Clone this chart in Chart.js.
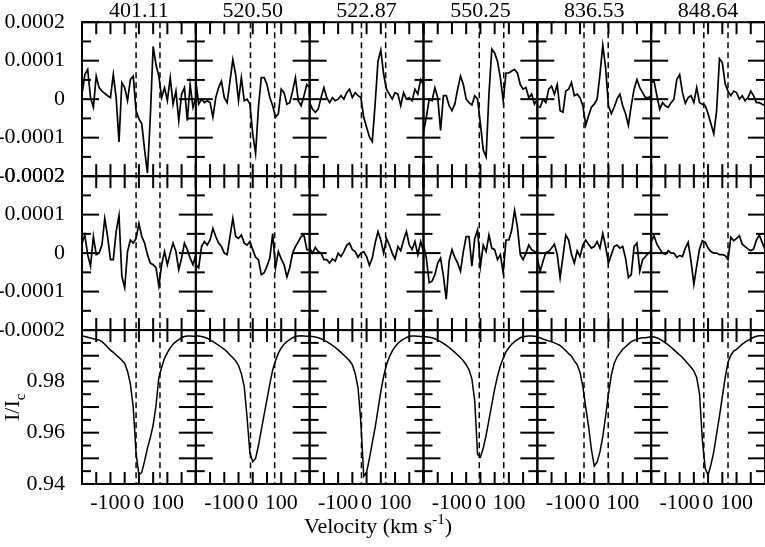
<!DOCTYPE html>
<html>
<head>
<meta charset="utf-8">
<title>LSD profiles</title>
<script src="https://cdn.jsdelivr.net/npm/chart.js@4.4.0/dist/chart.umd.min.js"></script>
<style>
  html, body { margin: 0; padding: 0; background: #fff; }
  #wrap { width: 765px; height: 547px; }
</style>
</head>
<body>
<div id="wrap"><canvas id="lsdChart" width="765" height="547"></canvas></div>
<script>
// velocity grid (km/s), shared by every panel
const velocity = [-200, -190, -180, -170, -160, -150, -140, -130, -120, -110, -100, -90, -80, -70, -60, -50, -40, -30, -20, -10,
  0, 10, 20, 30, 40, 50, 60, 70, 80, 90, 100, 110, 120, 130, 140, 150, 160, 170, 180, 190, 200];

const lineLabels = ['401.11', '520.50', '522.87', '550.25', '836.53', '848.64'];
// integration window (dashed lines) for each line
const windowLo = [-10, -8, -18, -4, -36, -15];
const windowHi = [74, 77, 67, 82, 49, 70];

const velTicks = [-200, -150, -100, -50, 0, 50, 100, 150, 200];
const velLabels = [-100, 0, 100];
const stokesTicks = [-0.0002, -0.00015, -0.0001, -0.00005, 0, 0.00005, 0.0001, 0.00015, 0.0002];
const profileTicks = [0.94, 0.945, 0.95, 0.955, 0.96, 0.965, 0.97, 0.975, 0.98, 0.985, 0.99, 0.995, 1.0];

// Stokes V (top row)
const V_401 = [1.3e-5, 6.4e-5, 7.7e-5, 0.4e-5, -2.1e-5, 6e-5, 3e-5, 2.1e-5, 1.5e-5, 0.9e-5, 0.4e-5, 6.4e-5, 0.4e-5, -11.1e-5, 4.3e-5, 3e-5, -0.4e-5, 5.1e-5, 6e-5, -3e-5,
  -5.1e-5, -6.4e-5, -13.2e-5, -19.2e-5, -4.7e-5, 13.7e-5, 9e-5, 6e-5, 0.4e-5, 3e-5, -0.4e-5, 5.6e-5, -1.3e-5, 2.1e-5, -5.6e-5, 1.3e-5, 3e-5, -5.6e-5, 3.8e-5, -2.1e-5, 0.4e-5];
const V_520 = [4.7e-5, -1.3e-5, 0, -0.9e-5, -0.4e-5, -0.9e-5, -4.7e-5, 0.4e-5, 3e-5, 4.7e-5, 0.4e-5, -0.9e-5, 4.7e-5, 10.3e-5, 6.4e-5, -0.4e-5, 5.6e-5, -0.4e-5, 0, -1.3e-5,
  -9e-5, -14.1e-5, -2.1e-5, 5.6e-5, 5.6e-5, 3.8e-5, 0.4e-5, -1.7e-5, -4.7e-5, -3.8e-5, 2.6e-5, 1.7e-5, -1.3e-5, -0.9e-5, 2.1e-5, 5.6e-5, -0.4e-5, -1.7e-5, 0.9e-5, 3.8e-5, 3e-5];
const V_522 = [-0.9e-5, -2.6e-5, -3.4e-5, -2.6e-5, 0.4e-5, 3e-5, 0.4e-5, -0.9e-5, 0.4e-5, -0.4e-5, 0, 0.9e-5, 0, 1.7e-5, 2.6e-5, 0.4e-5, 1.7e-5, 0.9e-5, 0.4e-5, -4.7e-5,
  -7.3e-5, -9.8e-5, -11e-5, -1.3e-5, 9.8e-5, 12.8e-5, 6.4e-5, 2.6e-5, 1.3e-5, 0, 1.7e-5, 1.3e-5, -1.7e-5, 1.7e-5, 0, 0.4e-5, -0.4e-5, 2.6e-5, 1.3e-5, 5.1e-5, 3.8e-5];
const V_550 = [-8.5e-5, -4.7e-5, 0, -0.4e-5, 3e-5, 0.4e-5, -8.1e-5, 0.9e-5, 0.9e-5, -1.7e-5, -3e-5, -1.3e-5, 2.6e-5, 6e-5, 3.8e-5, 0, -0.9e-5, -1.5e-5, 0.9e-5, 0,
  -6.4e-5, -13.2e-5, -15e-5, 1.3e-5, 13e-5, 12e-5, 9.8e-5, 5.6e-5, -0.4e-5, 6.8e-5, 6.8e-5, 7.3e-5, 7.7e-5, 6.8e-5, 3.8e-5, 2.6e-5, 3e-5, 0.4e-5, 1.3e-5, -1.3e-5, 0];
const V_836 = [-1.7e-5, -2.1e-5, 0, -0.9e-5, 2.6e-5, 3.4e-5, 1.3e-5, 3.8e-5, -3e-5, -3.4e-5, 2.1e-5, 2.6e-5, 4.3e-5, 0.9e-5, 1.3e-5, 0.4e-5, -1.7e-5, -6.8e-5, -4.3e-5, -2.1e-5,
  -1.3e-5, 0, 6.4e-5, 14e-5, 8.1e-5, -1.7e-5, -3.8e-5, -2.1e-5, 0, 1.3e-5, -1.7e-5, -3.8e-5, -6.8e-5, -1.7e-5, 2.6e-5, 5.1e-5, 3e-5, 1.7e-5, 0.4e-5, 0.4e-5, 0.9e-5];
const V_848 = [4.3e-5, 4.7e-5, 0.9e-5, -2.6e-5, -0.9e-5, -1.7e-5, -2.1e-5, -0.9e-5, 0, 5.1e-5, 6.4e-5, 1.7e-5, -1.1e-5, 0.4e-5, 0.9e-5, -0.9e-5, 3e-5, -0.9e-5, -1.3e-5, -1.7e-5,
  -3.8e-5, -6.4e-5, -9e-5, -3e-5, 10.5e-5, 9.5e-5, 4e-5, 2.1e-5, 0.9e-5, 2.1e-5, 1.7e-5, 0, 0.9e-5, -0.4e-5, 0.4e-5, 2.1e-5, 0.9e-5, -0.9e-5, -0.9e-5, -1.3e-5, -1.7e-5];

// null profile N (middle row)
const N_401 = [2.6e-5, 4.7e-5, -0.4e-5, -3.4e-5, 4.3e-5, -0.4e-5, 0, 2.1e-5, 9e-5, 4.3e-5, -1.7e-5, -1.7e-5, 5.6e-5, 9.8e-5, -6e-5, -9e-5, 0.4e-5, 3.4e-5, 2.6e-5, 3.8e-5,
  7.7e-5, 4.3e-5, 2.6e-5, -0.4e-5, -2.6e-5, -3e-5, -3.8e-5, -8.5e-5, -3e-5, 0.4e-5, -3e-5, 0, 2.6e-5, 0.4e-5, -4.3e-5, -1.3e-5, 2.6e-5, 0.9e-5, -1.3e-5, -3e-5, -0.4e-5];
const N_520 = [-3e-5, -3.8e-5, 1.7e-5, 3e-5, 2.1e-5, 3.4e-5, 6.4e-5, 4.3e-5, 2.6e-5, 1.7e-5, 0, -0.4e-5, 4.3e-5, 9e-5, 4.3e-5, 3.8e-5, 4.7e-5, 2.6e-5, 2.1e-5, 3e-5,
  0.9e-5, -1.1e-5, -1.7e-5, -5.6e-5, -5.1e-5, -3.4e-5, -1.3e-5, 5.1e-5, -3.8e-5, 0.4e-5, -1.5e-5, -3e-5, -6.2e-5, -3.8e-5, 0, 1.7e-5, 3e-5, 4.3e-5, 4.7e-5, 0.9e-5, 0.9e-5];
const N_522 = [1.3e-5, 0, 1.5e-5, 0.4e-5, 0, -1.7e-5, -1.7e-5, -2.6e-5, -1.5e-5, -2.1e-5, 0, -0.9e-5, 0.4e-5, 2e-5, 2.6e-5, 0.9e-5, 0.4e-5, -1.1e-5, 0, 0.4e-5,
  -0.9e-5, -3.2e-5, -1.3e-5, 2.6e-5, 5.6e-5, 3.4e-5, 0, 3.8e-5, 2.1e-5, 0, -1.5e-5, 1.7e-5, 0.6e-5, 3.4e-5, 5.6e-5, 2.1e-5, 0.9e-5, 3e-5, -0.4e-5, 3e-5, 0.4e-5];
const N_550 = [2.1e-5, -1.3e-5, -7.7e-5, -7.3e-5, -5.6e-5, -2.6e-5, -1.3e-5, -6e-5, -12e-5, -2.1e-5, 0.9e-5, -1.1e-5, -2.6e-5, -4.7e-5, 0.4e-5, 4.3e-5, 4.3e-5, -3.4e-5, 3.8e-5, 6e-5,
  -3.4e-5, 2.1e-5, 0.4e-5, 4.7e-5, 1.3e-5, 0.9e-5, -1.7e-5, -0.4e-5, -5.1e-5, 3.4e-5, 3.4e-5, 6e-5, 11.1e-5, 6.8e-5, -0.4e-5, -1.7e-5, 0, 2.1e-5, 0.9e-5, 0.4e-5, 0];
const N_836 = [-1.3e-5, -4.7e-5, -2.1e-5, 0.2e-5, 0.4e-5, 1.3e-5, 2.3e-5, -0.4e-5, -6.4e-5, -0.9e-5, 4.7e-5, 3.4e-5, -0.4e-5, -2.6e-5, 0.6e-5, -0.9e-5, 2.1e-5, 3.4e-5, 2.3e-5, 1.3e-5,
  1.7e-5, 3e-5, 1.3e-5, 5.1e-5, 1.7e-5, -2.6e-5, -0.4e-5, 1.7e-5, 2.1e-5, 1.3e-5, 1.7e-5, -1.3e-5, -6.4e-5, -5.6e-5, 1.7e-5, 2.6e-5, -4.7e-5, -1.7e-5, -0.9e-5, 0, 0.4e-5];
const N_848 = [3e-5, 4.5e-5, 2.3e-5, 1.1e-5, 0, -0.3e-5, 0.6e-5, 0, 0, -1.1e-5, -0.6e-5, -0.9e-5, 1.3e-5, 2.8e-5, -2.1e-5, -8.1e-5, -3.4e-5, 1.1e-5, 3.2e-5, 2.8e-5,
  1.3e-5, 0.4e-5, 0, 0, -0.4e-5, -0.4e-5, -0.6e-5, -1.7e-5, 4.1e-5, 3.2e-5, 3.8e-5, 4.5e-5, 2.3e-5, 1.7e-5, 1.1e-5, 0.6e-5, 1.1e-5, 3.4e-5, 4.7e-5, 2.8e-5, 0.9e-5];

// Stokes I / Ic (bottom row)
const I_401 = [0.9977, 0.9975, 0.9972, 0.9969, 0.9966, 0.9963, 0.9961, 0.9955, 0.9945, 0.9933, 0.9922, 0.9913, 0.9903, 0.9893, 0.9882, 0.987, 0.984, 0.979, 0.970, 0.952,
  0.9435, 0.9445, 0.949, 0.954, 0.958, 0.963, 0.9705, 0.9815, 0.9855, 0.989, 0.9912, 0.993, 0.9945, 0.9955, 0.9963, 0.997, 0.9975, 0.9977, 0.9977, 0.9976, 0.9975];
const I_520 = [0.9977, 0.9977, 0.9975, 0.9972, 0.9968, 0.9962, 0.9955, 0.9948, 0.994, 0.9933, 0.9925, 0.9915, 0.9903, 0.9892, 0.988, 0.9862, 0.983, 0.978, 0.966, 0.952,
  0.9487, 0.950, 0.955, 0.961, 0.967, 0.973, 0.979, 0.9845, 0.988, 0.991, 0.993, 0.9945, 0.9955, 0.9963, 0.997, 0.9975, 0.9977, 0.9978, 0.9977, 0.9976, 0.9975];
const I_522 = [0.9976, 0.9975, 0.9973, 0.997, 0.9966, 0.9961, 0.9955, 0.9948, 0.994, 0.9932, 0.9923, 0.9913, 0.9903, 0.9892, 0.988, 0.9865, 0.983, 0.9775, 0.964, 0.943,
  0.9445, 0.95, 0.956, 0.962, 0.969, 0.976, 0.982, 0.9865, 0.9895, 0.9918, 0.9935, 0.9948, 0.9958, 0.9965, 0.9971, 0.9975, 0.9977, 0.9977, 0.9976, 0.9975, 0.9975];
const I_550 = [0.9975, 0.9974, 0.9972, 0.997, 0.9966, 0.9961, 0.9955, 0.9948, 0.994, 0.9932, 0.9923, 0.9913, 0.9903, 0.9892, 0.988, 0.9865, 0.9845, 0.981, 0.9725, 0.9515,
  0.9505, 0.954, 0.959, 0.965, 0.971, 0.977, 0.982, 0.986, 0.989, 0.9915, 0.9932, 0.9945, 0.9955, 0.9963, 0.997, 0.9974, 0.9976, 0.9977, 0.9977, 0.9976, 0.9975];
const I_836 = [0.9972, 0.997, 0.9965, 0.9961, 0.9958, 0.9954, 0.995, 0.9945, 0.994, 0.993, 0.992, 0.9908, 0.9898, 0.988, 0.9865, 0.9835, 0.978, 0.970, 0.9625, 0.9535,
  0.947, 0.9485, 0.9525, 0.9585, 0.9665, 0.975, 0.9825, 0.987, 0.9895, 0.991, 0.9925, 0.9935, 0.9945, 0.9955, 0.996, 0.9965, 0.9968, 0.997, 0.997, 0.9972, 0.9974];
const I_848 = [0.9975, 0.9973, 0.997, 0.9965, 0.9958, 0.995, 0.9942, 0.9933, 0.9923, 0.9913, 0.9903, 0.9893, 0.988, 0.9868, 0.9855, 0.984, 0.9815, 0.975, 0.957, 0.946,
  0.9435, 0.9475, 0.9525, 0.9595, 0.9665, 0.974, 0.9815, 0.9875, 0.9902, 0.9918, 0.9925, 0.9935, 0.9945, 0.9953, 0.996, 0.9966, 0.9972, 0.9976, 0.9978, 0.9978, 0.9978];

const FONT = 'Liberation Serif';
const xIds = ['x0', 'x1', 'x2', 'x3', 'x4', 'x5'];
const rows = [
  { axis: 'yV', ticks: stokesTicks, width: 1.7, series: [V_401, V_520, V_522, V_550, V_836, V_848] },
  { axis: 'yN', ticks: stokesTicks, width: 1.7, series: [N_401, N_520, N_522, N_550, N_836, N_848] },
  { axis: 'yI', ticks: profileTicks, width: 1.5, series: [I_401, I_520, I_522, I_550, I_836, I_848] }
];

function isMajor(axis, t) {
  if (axis === 'yI') return Math.round(t * 1000) % 10 === 0;
  return Math.round(t * 1e5) % 10 === 0;
}

const datasets = [];
rows.forEach(row => {
  row.series.forEach((vals, c) => {
    datasets.push({
      data: velocity.map((v, i) => ({ x: v, y: vals[i] })),
      xAxisID: xIds[c],
      yAxisID: row.axis,
      borderColor: '#000',
      borderWidth: row.width,
      pointRadius: 0,
      fill: false,
      tension: 0
    });
  });
});

const tickFont = { family: FONT, size: 22 };
const scales = {};
xIds.forEach(id => {
  scales[id] = {
    type: 'linear',
    position: 'bottom',
    stack: 'vel',
    min: -200,
    max: 200,
    grid: { display: false },
    border: { display: false },
    ticks: {
      stepSize: 50,
      autoSkip: false,
      maxRotation: 0,
      padding: -2,
      color: '#000',
      font: tickFont,
      callback: v => velLabels.includes(v) ? String(v) : ''
    },
    afterFit: s => { s.height = 63; }
  };
});
const stokesLabel = v => {
  const k = Math.round(v * 1e4);
  return k === 0 ? '0' : String(k / 1e4);
};
scales.yI = {
  type: 'linear', position: 'left', stack: 'rows', min: 0.94, max: 1.0,
  grid: { display: false }, border: { display: false },
  ticks: { stepSize: 0.02, autoSkip: false, padding: 9, color: '#000', font: tickFont,
    callback: v => v > 0.999 ? '' : v.toFixed(2) },
  afterFit: s => { s.width = 82; }
};
scales.yN = {
  type: 'linear', position: 'left', stack: 'rows', min: -0.0002, max: 0.0002,
  grid: { display: false }, border: { display: false },
  ticks: { stepSize: 0.0001, autoSkip: false, padding: 9, color: '#000', font: tickFont, callback: stokesLabel },
  afterFit: s => { s.width = 82; }
};
scales.yV = {
  type: 'linear', position: 'left', stack: 'rows', min: -0.0002, max: 0.0002,
  grid: { display: false }, border: { display: false },
  ticks: { stepSize: 0.0001, autoSkip: false, padding: 9, color: '#000', font: tickFont, callback: stokesLabel },
  afterFit: s => { s.width = 82; }
};

function seg(ctx, x1, y1, x2, y2) {
  ctx.beginPath();
  ctx.moveTo(x1, y1);
  ctx.lineTo(x2, y2);
  ctx.stroke();
}

// frames, inward ticks, dashed windows and the texts the axes can't do
const panelFrames = {
  id: 'panelFrames',
  afterDatasetsDraw(chart) {
    const ctx = chart.ctx;
    const area = chart.chartArea;
    ctx.save();
    ctx.strokeStyle = '#000';
    ctx.lineWidth = 2;
    rows.forEach(row => {
      const ys = chart.scales[row.axis];
      xIds.forEach(id => {
        const xs = chart.scales[id];
        ctx.strokeRect(xs.left, ys.top, xs.right - xs.left, ys.bottom - ys.top);
        velTicks.forEach(v => {
          const px = xs.getPixelForValue(v);
          seg(ctx, px, ys.top, px, ys.top + 12);
          seg(ctx, px, ys.bottom - 12, px, ys.bottom);
        });
        row.ticks.forEach(t => {
          const py = ys.getPixelForValue(t);
          const len = isMajor(row.axis, t) ? 17 : 9;
          seg(ctx, xs.left, py, xs.left + len, py);
          seg(ctx, xs.right - len, py, xs.right, py);
        });
      });
    });

    ctx.lineWidth = 1.5;
    ctx.setLineDash([6, 4]);
    xIds.forEach((id, c) => {
      const xs = chart.scales[id];
      [windowLo[c], windowHi[c]].forEach(v => {
        const px = xs.getPixelForValue(v);
        seg(ctx, px, area.top, px, area.bottom);
      });
    });
    ctx.setLineDash([]);

    ctx.fillStyle = '#000';
    ctx.font = '22px "' + FONT + '"';
    ctx.textAlign = 'center';
    ctx.textBaseline = 'alphabetic';
    xIds.forEach((id, c) => {
      const xs = chart.scales[id];
      ctx.fillText(lineLabels[c], (xs.left + xs.right) / 2, 17);
    });

    // x title with superscript
    const main = 'Velocity (km s';
    ctx.font = '22px "' + FONT + '"';
    const w1 = ctx.measureText(main).width;
    const w3 = ctx.measureText(')').width;
    ctx.font = '15px "' + FONT + '"';
    const w2 = ctx.measureText('-1').width;
    const x0 = 378 - (w1 + w2 + w3) / 2;
    ctx.textAlign = 'left';
    ctx.font = '22px "' + FONT + '"';
    ctx.fillText(main, x0, 533);
    ctx.font = '15px "' + FONT + '"';
    ctx.fillText('-1', x0 + w1, 524);
    ctx.font = '22px "' + FONT + '"';
    ctx.fillText(')', x0 + w1 + w2, 533);

    // y title I/Ic
    const yI = chart.scales.yI;
    ctx.translate(19, (yI.top + yI.bottom) / 2 + 14);
    ctx.rotate(-Math.PI / 2);
    ctx.font = '22px "' + FONT + '"';
    ctx.fillText('I/I', 0, 0);
    const wi = ctx.measureText('I/I').width;
    ctx.font = '15px "' + FONT + '"';
    ctx.fillText('c', wi, 6);
    ctx.restore();
  }
};

new Chart(document.getElementById('lsdChart'), {
  type: 'line',
  data: { datasets: datasets },
  options: {
    responsive: false,
    animation: false,
    events: [],
    layout: { padding: { top: 19, left: 0, right: 0, bottom: 0 } },
    plugins: { legend: { display: false }, tooltip: { enabled: false }, title: { display: false } },
    scales: scales
  },
  plugins: [panelFrames]
});
</script>
</body>
</html>
